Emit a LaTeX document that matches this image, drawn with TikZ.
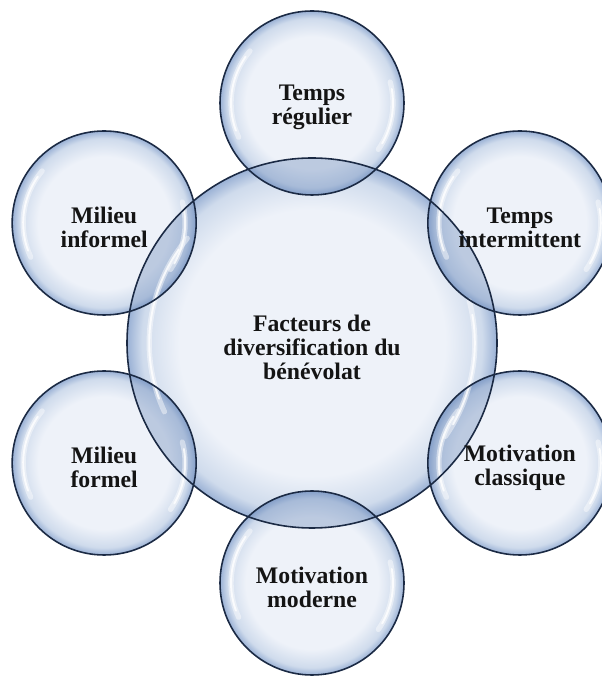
\documentclass[tikz,border=0pt]{standalone}
\usepackage{fontspec}
\setmainfont{Liberation Serif}
\usepackage{tikz}
\usetikzlibrary{calc}

\definecolor{bubbleIn}{HTML}{EEF2F9}
\definecolor{bubbleMid}{HTML}{CFDBEC}
\definecolor{bubbleOut}{HTML}{9AB1D5}
\definecolor{bubbleLine}{HTML}{1B2A44}
\definecolor{lensBlue}{HTML}{5F80B4}
\pgfdeclareradialshading{bubble}{\pgfpoint{0bp}{0bp}}{color(0bp)=(bubbleIn); color(18bp)=(bubbleIn); color(23bp)=(bubbleMid); color(25bp)=(bubbleOut); color(50bp)=(bubbleOut)}

\begin{document}
\begin{tikzpicture}[
    bubble/.style={circle, shading=bubble, inner sep=0pt},
    caption/.style={align=center, text=black!92, yshift=-0.09cm,
      font=\bfseries\fontsize{13.5}{13.8}\selectfont},
    outline/.style={draw=bubbleLine, line width=0.9pt},
    gloss/.style={white, line width=3pt, opacity=0.45, line cap=round},
    glosscore/.style={white, line width=1.1pt, opacity=0.8, line cap=round}]
  \useasboundingbox (0,0) rectangle (12.04,13.54);
  \clip (0,0) rectangle (12.04,13.54);

  % big circle in the middle
  \node[bubble, minimum size=7.4cm] (centre) at (6.24,6.68) {};

  % the six factors around it
  \foreach \ang/\name in {90/reg, 30/inter, -30/classic, -90/modern, -150/formel, 150/informel}
    \node[bubble, minimum size=3.68cm] (\name) at ($(centre.center)+(\ang:4.8)$) {};

  % darker lenses where the circles overlap
  \begin{scope}
    \clip (centre.center) circle (3.7);
    \foreach \name in {reg,inter,classic,modern,formel,informel}
      \fill[lensBlue, opacity=0.35] (\name.center) circle (1.84);
  \end{scope}

  % glossy highlights
  \foreach \name/\r in {centre/3.7,reg/1.84,inter/1.84,classic/1.84,modern/1.84,formel/1.84,informel/1.84} {
    \draw[gloss] ($(\name.center)+(140:0.88*\r)$) arc (140:205:0.88*\r);
    \draw[glosscore] ($(\name.center)+(145:0.88*\r)$) arc (145:200:0.88*\r);
    \draw[gloss] ($(\name.center)+(-35:0.88*\r)$) arc (-35:15:0.88*\r);
    \draw[glosscore] ($(\name.center)+(-30:0.88*\r)$) arc (-30:10:0.88*\r);
  }

  % outlines on top
  \foreach \name/\r in {centre/3.7,reg/1.84,inter/1.84,classic/1.84,modern/1.84,formel/1.84,informel/1.84}
    \draw[outline] (\name.center) circle (\r);

  % labels
  \node[caption] (centreText) at (centre.center) {Facteurs de\\diversification du\\bénévolat};
  \node[caption] (regText) at (reg.center) {Temps\\régulier};
  \node[caption] (interText) at (inter.center) {Temps\\intermittent};
  \node[caption] (classicText) at (classic.center) {Motivation\\classique};
  \node[caption] (modernText) at (modern.center) {Motivation\\moderne};
  \node[caption] (formelText) at (formel.center) {Milieu\\formel};
  \node[caption] (informelText) at (informel.center) {Milieu\\informel};
\end{tikzpicture}
\end{document}
